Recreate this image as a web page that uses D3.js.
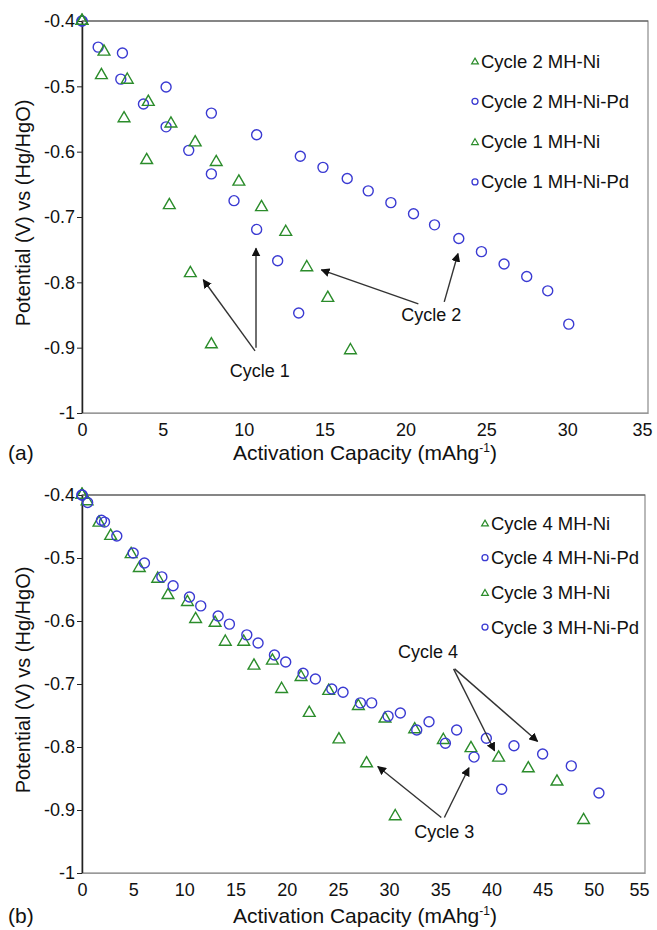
<!DOCTYPE html>
<html lang="en">
<head>
    <meta charset="UTF-8">
    <title>Activation capacity - MH-Ni vs MH-Ni-Pd</title>
    <script src="https://d3js.org/d3.v7.min.js"></script>
    <style>
        body{
            margin: 0;
            background: white;
        }
        #canvas{
            display: block;
            font-family: "Liberation Sans", Arial, sans-serif;
        }
    </style>
</head>
<body>
    <svg id="canvas" width="657" height="930"></svg>
    <script>
        // panel (a): cycles 1 and 2, [capacity, potential]
        let cycle2_ni = [[0,-0.4],[1.36,-0.447],[2.8,-0.49],[4.1,-0.524],[5.5,-0.557],[7.0,-0.586],[8.3,-0.616],
            [9.7,-0.646],[11.1,-0.685],[12.6,-0.723],[13.9,-0.777],[15.2,-0.824],[16.6,-0.904]];
        let cycle2_pd = [[0,-0.4],[2.5,-0.449],[5.2,-0.501],[8.0,-0.541],[10.8,-0.574],[13.5,-0.607],[14.9,-0.624],
            [16.4,-0.641],[17.7,-0.66],[19.1,-0.678],[20.5,-0.695],[21.8,-0.712],[23.3,-0.733],[24.7,-0.753],
            [26.1,-0.772],[27.5,-0.791],[28.8,-0.813],[30.1,-0.864]];
        let cycle1_ni = [[0,-0.4],[1.2,-0.483],[2.6,-0.549],[4.0,-0.613],[5.4,-0.682],[6.7,-0.786],[8.0,-0.895]];
        let cycle1_pd = [[0,-0.4],[1.0,-0.44],[2.4,-0.489],[3.8,-0.527],[5.2,-0.562],[6.6,-0.598],[8.0,-0.634],
            [9.4,-0.675],[10.8,-0.719],[12.1,-0.767],[13.4,-0.847]];

        // panel (b): cycles 3 and 4
        let cycle4_ni = [[0,-0.4],[1.66,-0.444],[4.8,-0.494],[7.4,-0.533],[10.3,-0.57],[13.0,-0.603],[15.8,-0.633],
            [18.6,-0.663],[21.4,-0.689],[24.1,-0.711],[27.0,-0.735],[29.6,-0.755],[32.5,-0.772],[35.3,-0.789],
            [38.0,-0.802],[40.7,-0.817],[43.6,-0.834],[46.4,-0.855],[49.0,-0.916]];
        let cycle4_pd = [[0,-0.4],[0.55,-0.412],[1.9,-0.44],[3.4,-0.465],[6.1,-0.508],[8.9,-0.544],[11.6,-0.576],
            [14.4,-0.605],[17.2,-0.635],[19.9,-0.665],[22.8,-0.692],[25.5,-0.713],[28.3,-0.73],[31.1,-0.746],
            [33.9,-0.76],[36.6,-0.773],[39.5,-0.786],[42.2,-0.798],[45.0,-0.811],[47.8,-0.83],[50.5,-0.873]];
        let cycle3_ni = [[0,-0.4],[0.5,-0.41],[2.8,-0.465],[5.6,-0.516],[8.4,-0.559],[11.1,-0.597],[14.0,-0.633],
            [16.8,-0.671],[19.5,-0.708],[22.2,-0.746],[25.1,-0.788],[27.8,-0.826],[30.6,-0.91]];
        let cycle3_pd = [[0,-0.4],[2.2,-0.443],[5.0,-0.492],[7.8,-0.53],[10.5,-0.562],[13.3,-0.592],[16.1,-0.622],
            [18.8,-0.654],[21.6,-0.683],[24.4,-0.708],[27.2,-0.73],[29.9,-0.751],[32.7,-0.773],[35.5,-0.794],
            [38.3,-0.816],[41.0,-0.867]];

        let y_ticks = [-1,-0.9,-0.8,-0.7,-0.6,-0.5,-0.4];
        let x_ticks_a = [0,5,10,15,20,25,30,35];
        let x_ticks_b = [0,5,10,15,20,25,30,35,40,45,50,55];

        let legend_a = ["Cycle 2 MH-Ni","Cycle 2 MH-Ni-Pd","Cycle 1 MH-Ni","Cycle 1 MH-Ni-Pd"];
        let legend_b = ["Cycle 4 MH-Ni","Cycle 4 MH-Ni-Pd","Cycle 3 MH-Ni","Cycle 3 MH-Ni-Pd"];

        // annotation arrows: label position and [from, to] in data units
        let notes_a = [
            {label:"Cycle 1", at:[11.0,-0.945], arrows:[[[10.7,-0.905],[7.5,-0.796]],[[10.76,-0.9],[10.76,-0.748]]]},
            {label:"Cycle 2", at:[21.6,-0.859], arrows:[[[20.8,-0.833],[14.8,-0.781]],[[22.4,-0.83],[23.25,-0.756]]]}
        ];
        let notes_b = [
            {label:"Cycle 4", at:[33.8,-0.659], arrows:[[[36.3,-0.676],[40.3,-0.806]],[[36.4,-0.676],[44.5,-0.791]]]},
            {label:"Cycle 3", at:[35.4,-0.944], arrows:[[[35.1,-0.912],[28.9,-0.831]],[[35.4,-0.912],[37.8,-0.833]]]}
        ];

        let green = "#2b8c2b";
        let blue = "#3a3ad2";

        let svg = d3.select('#canvas');

        svg.append("defs").append("marker")
            .attr("id","arrowhead")
            .attr("viewBox","0 0 10 10")
            .attr("refX",9).attr("refY",5)
            .attr("markerWidth",9).attr("markerHeight",9)
            .attr("markerUnits","userSpaceOnUse")
            .attr("orient","auto")
            .append("path").attr("d","M0,0 L10,5 L0,10 z").attr("fill","#111");

        let triangle = d3.symbol().type(d3.symbolTriangle).size(60);
        let triangleSmall = d3.symbol().type(d3.symbolTriangle).size(20);

        function yFormat(d){ return d === -1 ? "-1" : d.toFixed(1); }

        function drawPanel(p){
            let x = d3.scaleLinear().domain(p.xDomain).range([p.left,p.right]);
            let y = d3.scaleLinear().domain([-1,-0.4]).range([p.bottom,p.top]);
            let g = svg.append("g");

            // plot area border
            g.append("rect")
                .attr("x",p.left).attr("y",p.top)
                .attr("width",p.right-p.left).attr("height",p.bottom-p.top)
                .attr("fill","white").attr("stroke","#8a8a8a").attr("stroke-width",1.2);
            g.append("line").attr("x1",p.left).attr("x2",p.right).attr("y1",p.top).attr("y2",p.top)
                .attr("stroke","#555").attr("stroke-width",1.2);

            let yAxis = g.append("g").attr("transform",`translate(${p.left},0)`)
                .call(d3.axisLeft(y).tickValues(y_ticks).tickFormat(yFormat).tickSize(5).tickSizeOuter(0).tickPadding(2));
            yAxis.select(".domain").attr("stroke","#222").attr("stroke-width",1.5);
            yAxis.selectAll(".tick line").attr("stroke","#222");
            yAxis.selectAll("text").attr("font-size","18px").attr("fill","#111")
                .attr("font-family","'Liberation Sans', Arial, sans-serif");

            let xAxis = g.append("g").attr("transform",`translate(0,${p.bottom})`)
                .call(d3.axisBottom(x).tickValues(p.xTicks).tickSize(0).tickSizeOuter(0).tickPadding(10));
            xAxis.select(".domain").attr("stroke","#999").attr("stroke-width",1.2);
            xAxis.selectAll("text").attr("font-size","18px").attr("fill","#111")
                .attr("font-family","'Liberation Sans', Arial, sans-serif");
            // keep the last label inside the page
            xAxis.selectAll(".tick").filter((d,i,n) => i === n.length-1).select("text").attr("x",-6);

            // axis titles
            g.append("text")
                .attr("transform",`translate(${p.yTitleX},${(p.top+p.bottom)/2 - 4}) rotate(-90)`)
                .attr("text-anchor","middle")
                .attr("font-size","20px").attr("fill","#111")
                .text("Potential (V) vs (Hg/HgO)");
            let xt = g.append("text")
                .attr("x",365).attr("y",p.xTitleY)
                .attr("text-anchor","middle")
                .attr("font-size","21px").attr("fill","#111")
                .text("Activation Capacity (mAhg");
            xt.append("tspan").attr("font-size","12px").attr("dy",-8).text("-1");
            xt.append("tspan").attr("dy",8).text(")");
            g.append("text").attr("x",8).attr("y",p.xTitleY)
                .attr("font-size","21px").attr("fill","#111").text(p.tag);

            // series: drawn back to front
            p.series.forEach(function(s){
                let sel = g.append("g").selectAll("path").data(s.data).enter();
                if (s.shape === "triangle"){
                    sel.append("path")
                        .attr("d",triangle)
                        .attr("transform",d => `translate(${x(d[0])},${y(d[1])})`)
                        .attr("fill","none").attr("stroke",green).attr("stroke-width",1.4);
                } else {
                    sel.append("circle")
                        .attr("cx",d => x(d[0])).attr("cy",d => y(d[1])).attr("r",5)
                        .attr("fill","none").attr("stroke",blue).attr("stroke-width",1.4);
                }
            });

            // legend
            let leg = g.append("g");
            p.legend.forEach(function(name,i){
                let ly = p.legendY + i*p.legendStep;
                if (i % 2 === 0){
                    leg.append("path").attr("d",triangleSmall)
                        .attr("transform",`translate(${p.legendX},${ly+1})`)
                        .attr("fill","none").attr("stroke",green).attr("stroke-width",1.2);
                } else {
                    leg.append("circle").attr("cx",p.legendX).attr("cy",ly).attr("r",3)
                        .attr("fill","none").attr("stroke",blue).attr("stroke-width",1.3);
                }
                leg.append("text").attr("x",p.legendX+6).attr("y",ly+6.5)
                    .attr("font-size","18.5px").attr("fill","#111").text(name);
            });

            // annotations
            p.notes.forEach(function(n){
                n.arrows.forEach(function(a){
                    g.append("line")
                        .attr("x1",x(a[0][0])).attr("y1",y(a[0][1]))
                        .attr("x2",x(a[1][0])).attr("y2",y(a[1][1]))
                        .attr("stroke","#333").attr("stroke-width",1.4)
                        .attr("marker-end","url(#arrowhead)");
                });
                g.append("text").attr("x",x(n.at[0])).attr("y",y(n.at[1]))
                    .attr("text-anchor","middle")
                    .attr("font-size","18px").attr("fill","#111").text(n.label);
            });
        }

        drawPanel({
            xDomain:[0,35], xTicks:x_ticks_a,
            left:82, right:648, top:21, bottom:413,
            yTitleX:30, xTitleY:460, tag:"(a)",
            legend:legend_a, legendX:475, legendY:61, legendStep:40.3,
            notes:notes_a,
            series:[
                {shape:"circle", data:cycle1_pd},
                {shape:"circle", data:cycle2_pd},
                {shape:"triangle", data:cycle1_ni},
                {shape:"triangle", data:cycle2_ni}
            ]
        });

        drawPanel({
            xDomain:[0,55], xTicks:x_ticks_b,
            left:82, right:645, top:495, bottom:873,
            yTitleX:30, xTitleY:923, tag:"(b)",
            legend:legend_b, legendX:485, legendY:523, legendStep:34.7,
            notes:notes_b,
            series:[
                {shape:"triangle", data:cycle3_ni},
                {shape:"triangle", data:cycle4_ni},
                {shape:"circle", data:cycle3_pd},
                {shape:"circle", data:cycle4_pd}
            ]
        });
    </script>
</body>
</html>
